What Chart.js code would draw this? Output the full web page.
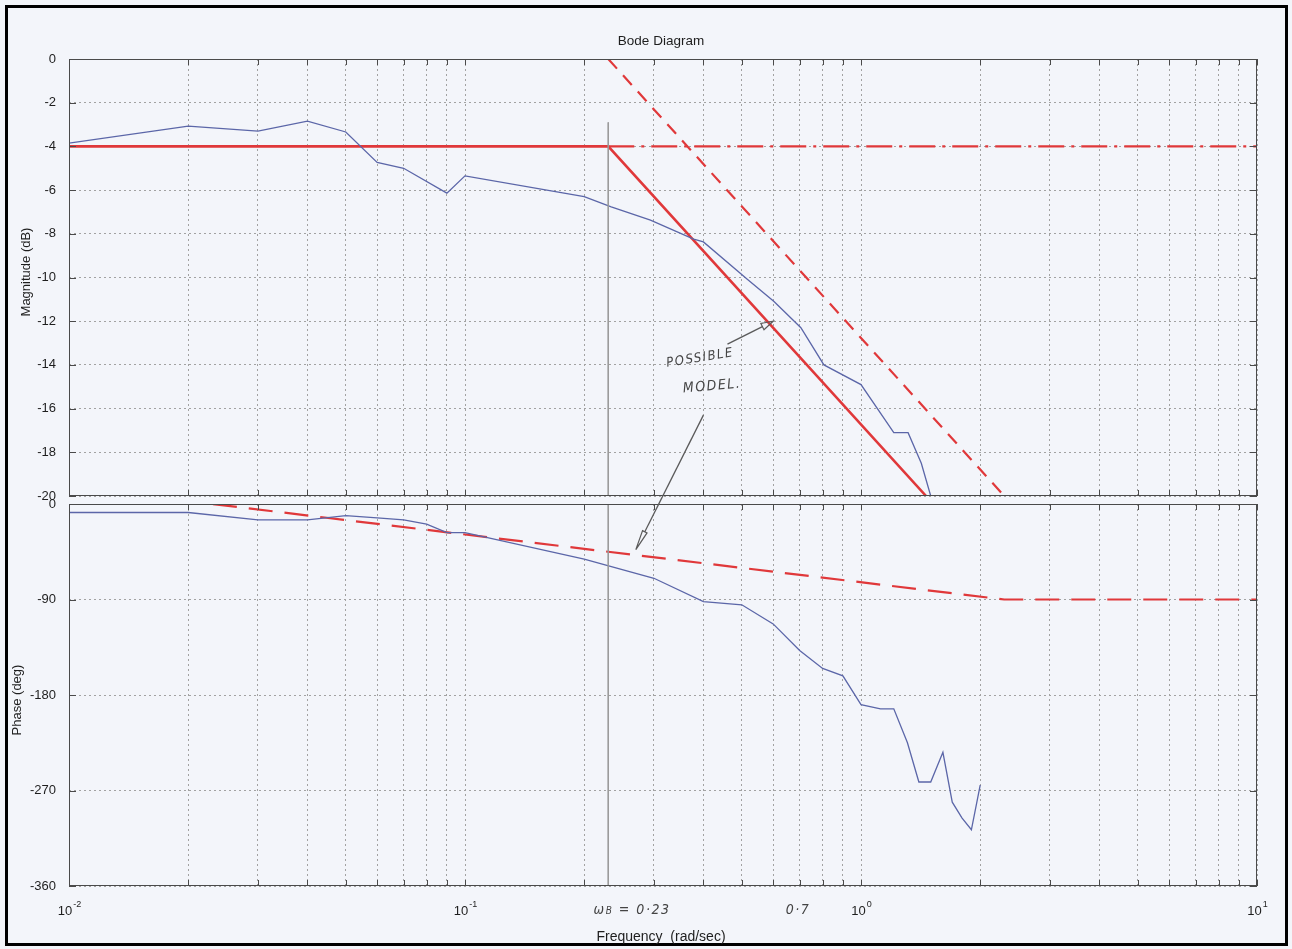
<!DOCTYPE html>
<html>
<head>
<meta charset="utf-8">
<title>Bode Diagram</title>
<script src="https://cdn.jsdelivr.net/npm/chart.js@4/dist/chart.umd.min.js"></script>
<style>
  html, body { margin: 0; padding: 0; background: #f3f5fa; }
  body { width: 1292px; height: 949px; position: relative; overflow: hidden;
         font-family: "Liberation Sans", Arial, sans-serif; color: #1e1e1e; }
  #frame { position: absolute; left: 5px; top: 5px; width: 1277px; height: 935px;
           border: 3px solid #000; box-sizing: content-box; }
  canvas { position: absolute; left: 0; }
  #magCanvas { top: 0; }
  #phaseCanvas { top: 480px; }
  .txt { position: absolute; white-space: nowrap; transform: translate(-50%, -50%); }
  .ylab { font-size: 13px; }
  .hand { font-family: "DejaVu Sans Condensed", "DejaVu Sans", sans-serif; font-style: italic;
          color: #444; letter-spacing: 1.5px; }
  #notes { position: absolute; left: 0; top: 0; pointer-events: none; }
</style>
</head>
<body>
<div id="frame"></div>
<canvas id="magCanvas" width="1292" height="520"></canvas>
<canvas id="phaseCanvas" width="1292" height="469"></canvas>
<svg id="notes" width="1292" height="949"></svg>

<div class="txt" style="left:661px; top:40px; font-size:13.5px;">Bode Diagram</div>
<div class="txt ylab" style="left:25px; top:272px; transform: translate(-50%,-50%) rotate(-90deg);">Magnitude (dB)</div>
<div class="txt ylab" style="left:16px; top:700px; transform: translate(-50%,-50%) rotate(-90deg);">Phase (deg)</div>
<div class="txt" style="left:661px; top:936px; font-size:14px;">Frequency&nbsp; (rad/sec)</div>

<div class="txt hand" style="left:632px; top:909px; font-size:14px;">ω<span style="font-size:10px;">B</span> = 0·23</div>
<div class="txt hand" style="left:798px; top:909px; font-size:14px;">0·7</div>
<div class="txt hand" style="left:700px; top:357px; font-size:13px; transform: translate(-50%,-50%) rotate(-9deg);">POSSIBLE</div>
<div class="txt hand" style="left:712px; top:385px; font-size:14px; transform: translate(-50%,-50%) rotate(-5deg);">MODEL.</div>

<script>
// ---- frequency axis (rad/sec) ----
const xTickValues = [0.01, 0.02, 0.03, 0.04, 0.05, 0.06, 0.07, 0.08, 0.09,
                     0.1, 0.2, 0.3, 0.4, 0.5, 0.6, 0.7, 0.8, 0.9,
                     1, 2, 3, 4, 5, 6, 7, 8, 9, 10];
const xDecadeExponents = [-2, -1, 0, 1];

// ---- measured magnitude response ----
const magFreq = [0.01, 0.02, 0.03, 0.04, 0.05, 0.06, 0.07, 0.09, 0.1, 0.2, 0.234, 0.294,
                 0.378, 0.40, 0.518, 0.603, 0.705, 0.806, 1.0, 1.21, 1.315, 1.42, 1.5];
const magDb   = [-3.85, -3.07, -3.3, -2.84, -3.34, -4.73, -5.0, -6.14, -5.35, -6.3, -6.77, -7.37,
                 -8.24, -8.37, -10.1, -11.1, -12.3, -14.0, -14.9, -17.1, -17.1, -18.5, -20];

// ---- measured phase response ----
const phaseFreq = [0.01, 0.02, 0.03, 0.04, 0.05, 0.06, 0.07, 0.08, 0.09, 0.1, 0.2, 0.3, 0.4, 0.5,
                   0.6, 0.7, 0.8, 0.9, 1.0, 1.12, 1.21, 1.31, 1.4, 1.5, 1.61, 1.7, 1.8, 1.9, 2.0];
const phaseDeg  = [-8, -8, -15, -15, -11, -13, -15, -19, -27, -27, -52, -70, -92, -95,
                   -113, -138, -155, -162, -189, -193, -193, -225, -262, -262, -234, -281, -296, -307, -265];

// ---- straight-line first-order model (corner at wB = 0.23) ----
const modelMagFreq = [0.01, 0.23, 1.46];
const modelMagDb   = [-4, -4, -20];
const modelLevelFreq = [0.23, 10];
const modelLevelDb   = [-4, -4];
const unityFreq = [0.01, 0.23];
const unityDb   = [0, 0];
const unitySlopeFreq = [0.23, 2.3];
const unitySlopeDb   = [0, -20];
const modelPhaseFreq = [0.01, 0.023, 2.3, 10];
const modelPhaseDeg  = [0, 0, -90, -90];

// ---- bandwidth marker ----
const bandwidthFreq = [0.23, 0.23];
const bandwidthMagDb = [-2.9, -20];
const bandwidthPhaseDeg = [0, -360];

const FONT = '"Liberation Sans", Arial, sans-serif';
const RED = '#e0383a';
const BLUE = '#5b66a8';
const GRID = '#a2a2a2';

const pts = (xs, ys) => xs.map((x, i) => ({ x: x, y: ys[i] }));
const line = (data, color, width, dash) => ({
  data: data, showLine: true, borderColor: color, borderWidth: width,
  borderDash: dash || [], pointRadius: 0, fill: false, tension: 0
});

// box around the plot area with inward ticks on all four sides
const framePlugin = {
  id: 'frame',
  afterDraw(chart) {
    const { ctx, chartArea: a, scales: { x, y } } = chart;
    ctx.save();
    ctx.strokeStyle = '#4a4a4a';
    ctx.lineWidth = 1;
    ctx.setLineDash([]);
    ctx.strokeRect(a.left + 0.5, a.top + 0.5, a.right - a.left - 1, a.bottom - a.top - 1);
    ctx.beginPath();
    x.ticks.forEach(t => {
      const px = Math.round(x.getPixelForValue(t.value)) + 0.5;
      ctx.moveTo(px, a.top); ctx.lineTo(px, a.top + 6);
      ctx.moveTo(px, a.bottom); ctx.lineTo(px, a.bottom - 6);
    });
    y.ticks.forEach(t => {
      const py = Math.round(y.getPixelForValue(t.value)) + 0.5;
      ctx.moveTo(a.left, py); ctx.lineTo(a.left + 7, py);
      ctx.moveTo(a.right, py); ctx.lineTo(a.right - 7, py);
    });
    ctx.stroke();
    ctx.restore();
  }
};

// decade labels with superscript exponents under the frequency axis
const decadePlugin = {
  id: 'decades',
  afterDraw(chart) {
    const { ctx, chartArea: a, scales: { x } } = chart;
    ctx.save();
    ctx.fillStyle = '#1e1e1e';
    ctx.textAlign = 'left';
    ctx.textBaseline = 'alphabetic';
    xDecadeExponents.forEach(e => {
      const px = x.getPixelForValue(Math.pow(10, e));
      const exp = String(e);
      ctx.font = '13px ' + FONT;
      const wb = ctx.measureText('10').width;
      ctx.font = '9px ' + FONT;
      const we = ctx.measureText(exp).width;
      const x0 = px - (wb + we) / 2;
      ctx.font = '13px ' + FONT;
      ctx.fillText('10', x0, a.bottom + 29);
      ctx.font = '9px ' + FONT;
      ctx.fillText(exp, x0 + wb + 1, a.bottom + 21);
    });
    ctx.restore();
  }
};

function xAxis(height) {
  return {
    type: 'logarithmic', min: 0.01, max: 10,
    afterBuildTicks: s => { s.ticks = xTickValues.map(v => ({ value: v })); },
    afterFit: s => { s.height = height; },
    ticks: { display: false },
    grid: { color: GRID, lineWidth: 1, drawTicks: false },
    border: { display: false, dash: [2, 3] }
  };
}
function yAxis(min, max, step) {
  return {
    min: min, max: max,
    afterFit: s => { s.width = 69; },
    ticks: { stepSize: step, padding: 13, color: '#1e1e1e', font: { family: FONT, size: 13 } },
    grid: { color: GRID, lineWidth: 1, drawTicks: false },
    border: { display: false, dash: [2, 3] }
  };
}
const common = {
  responsive: false, animation: false, devicePixelRatio: 1, events: [],
  plugins: { legend: { display: false }, tooltip: { enabled: false }, title: { display: false } }
};

const magChart = new Chart(document.getElementById('magCanvas'), {
  type: 'scatter',
  data: { datasets: [
    line(pts(bandwidthFreq, bandwidthMagDb), '#9a9a9a', 1),
    line(pts(magFreq, magDb), BLUE, 1.3),
    line(pts(unityFreq, unityDb), RED, 2.2, [28, 6, 3, 6]),
    line(pts(unitySlopeFreq, unitySlopeDb), RED, 2.2, [13, 9]),
    line(pts(modelLevelFreq, modelLevelDb), RED, 2.2, [26, 7, 3, 7]),
    line(pts(modelMagFreq, modelMagDb), RED, 2.6)
  ] },
  options: Object.assign({}, common, {
    layout: { padding: { top: 59, bottom: 24, left: 0, right: 35 } },
    scales: { x: xAxis(0), y: yAxis(-20, 0, 2) }
  }),
  plugins: [framePlugin]
});

const phaseChart = new Chart(document.getElementById('phaseCanvas'), {
  type: 'scatter',
  data: { datasets: [
    line(pts(bandwidthFreq, bandwidthPhaseDeg), '#9a9a9a', 1),
    line(pts(phaseFreq, phaseDeg), BLUE, 1.3),
    line(pts(modelPhaseFreq, modelPhaseDeg), RED, 2.2, [24, 12])
  ] },
  options: Object.assign({}, common, {
    layout: { padding: { top: 24, bottom: 0, left: 0, right: 35 } },
    scales: { x: xAxis(63), y: yAxis(-360, 0, 90) }
  }),
  plugins: [framePlugin, decadePlugin]
});

// hand-drawn arrows pointing at the model lines
const PHASE_TOP = 480;
const onMag = (f, v) => [magChart.scales.x.getPixelForValue(f), magChart.scales.y.getPixelForValue(v)];
const onPhase = (f, v) => [phaseChart.scales.x.getPixelForValue(f), PHASE_TOP + phaseChart.scales.y.getPixelForValue(v)];
const svg = document.getElementById('notes');
function arrow(tail, tip, headLen, headWidth) {
  const dx = tip[0] - tail[0], dy = tip[1] - tail[1];
  const L = Math.hypot(dx, dy), ux = dx / L, uy = dy / L;
  const bx = tip[0] - ux * headLen, by = tip[1] - uy * headLen;
  const p1 = [bx - uy * headWidth, by + ux * headWidth];
  const p2 = [bx + uy * headWidth, by - ux * headWidth];
  const ns = 'http://www.w3.org/2000/svg';
  const shaft = document.createElementNS(ns, 'line');
  shaft.setAttribute('x1', tail[0]); shaft.setAttribute('y1', tail[1]);
  shaft.setAttribute('x2', bx); shaft.setAttribute('y2', by);
  shaft.setAttribute('stroke', '#5a5a5a'); shaft.setAttribute('stroke-width', '1.3');
  svg.appendChild(shaft);
  const head = document.createElementNS(ns, 'polygon');
  head.setAttribute('points', [tip, p1, p2].map(p => p.join(',')).join(' '));
  head.setAttribute('fill', 'none'); head.setAttribute('stroke', '#5a5a5a'); head.setAttribute('stroke-width', '1.2');
  svg.appendChild(head);
}
arrow(onMag(0.46, -13.05), onMag(0.6, -12.0), 12, 3.5);
arrow(onMag(0.40, -16.3), onPhase(0.27, -43), 20, 2.5);
</script>
</body>
</html>
